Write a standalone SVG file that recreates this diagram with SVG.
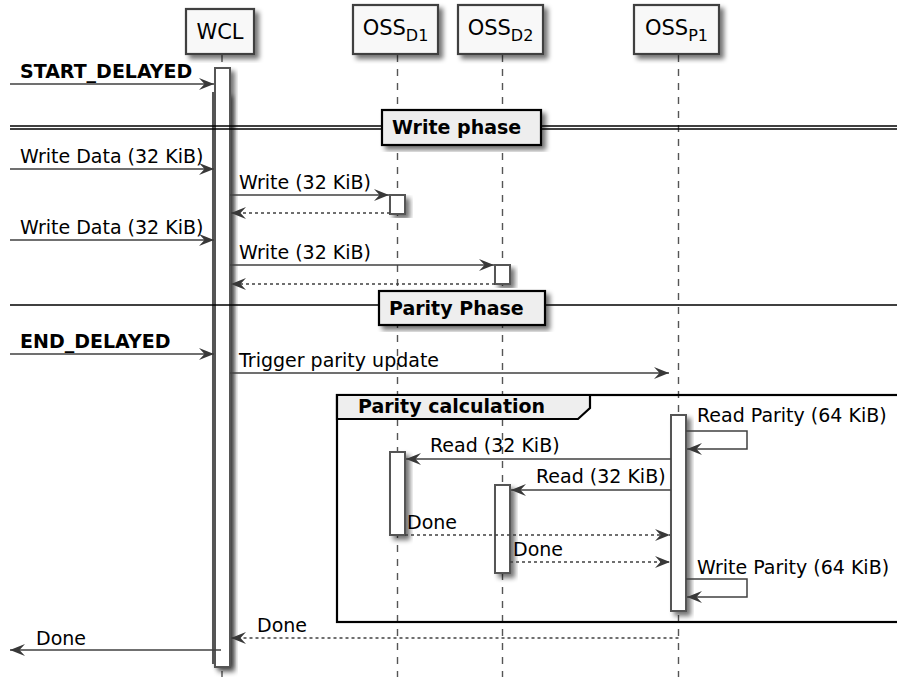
<svg xmlns="http://www.w3.org/2000/svg" width="897" height="677" viewBox="0 0 897 677">
<style>
text{font-family:"DejaVu Sans","Liberation Sans",sans-serif;fill:#000}
.msg{font-size:19px}
.b{font-size:19px;font-weight:bold}
.pt{font-size:21px;text-anchor:middle}
.sub{font-size:16px}
.head{fill:#F8F8F8;stroke:#404040;stroke-width:2.2}
.act{fill:#FFFFFF;stroke:#555555;stroke-width:2}
.life{stroke:#555555;stroke-width:1.4;stroke-dasharray:7,7;fill:none}
.m{stroke:#404040;stroke-width:1.5;fill:none;marker-end:url(#ah)}
.r{stroke:#404040;stroke-width:1.5;fill:none;stroke-dasharray:3,3;marker-end:url(#ah)}
.div{fill:#EEEEEE;stroke:#000;stroke-width:2.2}
.dl{stroke:#000;stroke-width:1.5}
</style>
<defs>
<filter id="sh" x="-50%" y="-20%" width="200%" height="140%">
<feGaussianBlur in="SourceAlpha" stdDeviation="2.5"/>
<feOffset dx="4" dy="4"/>
<feComponentTransfer><feFuncA type="linear" slope="0.55"/></feComponentTransfer>
<feMerge><feMergeNode/><feMergeNode in="SourceGraphic"/></feMerge>
</filter>
<marker id="ah" viewBox="0 0 15 12" refX="15" refY="6" markerWidth="15" markerHeight="12" markerUnits="userSpaceOnUse" orient="auto">
<path d="M0,0 L15,6 L0,12 L5.5,6 Z" fill="#383838"/>
</marker>
</defs>

<g id="lifelines">
<line class="life" x1="222" y1="55" x2="222" y2="677"/>
<line class="life" x1="397.5" y1="55" x2="397.5" y2="677"/>
<line class="life" x1="502.5" y1="55" x2="502.5" y2="677"/>
<line class="life" x1="678.5" y1="55" x2="678.5" y2="677"/>
</g>

<g id="WCL">
<rect class="head" x="186" y="9" width="68" height="45" filter="url(#sh)"/>
<text class="pt" x="220" y="39">WCL</text>
</g>
<g id="OSS_D1">
<rect class="head" x="353" y="5" width="85" height="49" filter="url(#sh)"/>
<text class="pt" x="395.5" y="35">OSS<tspan class="sub" dy="6">D1</tspan></text>
</g>
<g id="OSS_D2">
<rect class="head" x="458" y="5" width="85" height="49" filter="url(#sh)"/>
<text class="pt" x="500.5" y="35">OSS<tspan class="sub" dy="6">D2</tspan></text>
</g>
<g id="OSS_P1">
<rect class="head" x="634" y="5" width="85" height="49" filter="url(#sh)"/>
<text class="pt" x="676.5" y="35">OSS<tspan class="sub" dy="6">P1</tspan></text>
</g>

<g id="group_parity_calculation">
<rect x="337" y="395" width="562" height="227" fill="none" stroke="#000" stroke-width="2.2"/>
<polygon points="337,395 590,395 590,408 578,419 337,419" fill="#EEEEEE" stroke="#000" stroke-width="2.2"/>
<text class="b" x="358" y="413">Parity calculation</text>
</g>

<g id="activations">
<rect class="act" x="213" y="93" width="15" height="570" filter="url(#sh)"/>
<rect class="act" x="215" y="68" width="15" height="599" filter="url(#sh)"/>
<rect class="act" x="390" y="195" width="15" height="19" filter="url(#sh)"/>
<rect class="act" x="495" y="265" width="15" height="19" filter="url(#sh)"/>
<rect class="act" x="671" y="415" width="15" height="196" filter="url(#sh)"/>
<rect class="act" x="390" y="452" width="15" height="83" filter="url(#sh)"/>
<rect class="act" x="495" y="485" width="15" height="88" filter="url(#sh)"/>
</g>

<g id="connectors">
<line class="m" x1="10" y1="84" x2="214" y2="84"/>
<line class="m" x1="10" y1="169" x2="214" y2="169"/>
<line class="m" x1="230" y1="195" x2="389" y2="195"/>
<line class="r" x1="390" y1="213" x2="231" y2="213"/>
<line class="m" x1="10" y1="240" x2="214" y2="240"/>
<line class="m" x1="230" y1="265" x2="494" y2="265"/>
<line class="r" x1="495" y1="284" x2="231" y2="284"/>
<line class="m" x1="10" y1="354" x2="214" y2="354"/>
<line class="m" x1="230" y1="373" x2="669" y2="373"/>
<path class="m" d="M686,431 H747 V449 H687"/>
<line class="m" x1="671" y1="459" x2="406" y2="459"/>
<line class="m" x1="671" y1="490" x2="511" y2="490"/>
<line class="r" x1="405" y1="535" x2="670" y2="535"/>
<line class="r" x1="510" y1="562" x2="670" y2="562"/>
<path class="m" d="M686,579 H747 V597 H687"/>
<line class="r" x1="678.5" y1="638" x2="231" y2="638"/>
<line class="m" x1="221" y1="650" x2="10" y2="650"/>
</g>

<g id="labels">
<text class="b" x="20" y="78">START_DELAYED</text>
<text class="msg" x="20" y="163">Write Data (32 KiB)</text>
<text class="msg" x="239" y="189">Write (32 KiB)</text>
<text class="msg" x="20" y="234">Write Data (32 KiB)</text>
<text class="msg" x="239" y="259">Write (32 KiB)</text>
<text class="b" x="20" y="348">END_DELAYED</text>
<text class="msg" x="239" y="367">Trigger parity update</text>
<text class="msg" x="697" y="422">Read Parity (64 KiB)</text>
<text class="msg" x="430" y="452">Read (32 KiB)</text>
<text class="msg" x="536" y="483">Read (32 KiB)</text>
<text class="msg" x="407" y="529">Done</text>
<text class="msg" x="513" y="556">Done</text>
<text class="msg" x="697" y="574">Write Parity (64 KiB)</text>
<text class="msg" x="257" y="632">Done</text>
<text class="msg" x="36" y="645">Done</text>
</g>

<g id="divider_write_phase">
<line class="dl" x1="10" y1="126" x2="897" y2="126"/>
<line class="dl" x1="10" y1="129" x2="897" y2="129"/>
<rect class="div" x="382" y="110" width="159" height="35" filter="url(#sh)"/>
<text class="b" x="392" y="134">Write phase</text>
</g>
<g id="divider_parity_phase">
<line class="dl" x1="10" y1="305" x2="897" y2="305"/>
<rect class="div" x="379" y="291" width="166" height="34" filter="url(#sh)"/>
<text class="b" x="389" y="315">Parity Phase</text>
</g>
</svg>
